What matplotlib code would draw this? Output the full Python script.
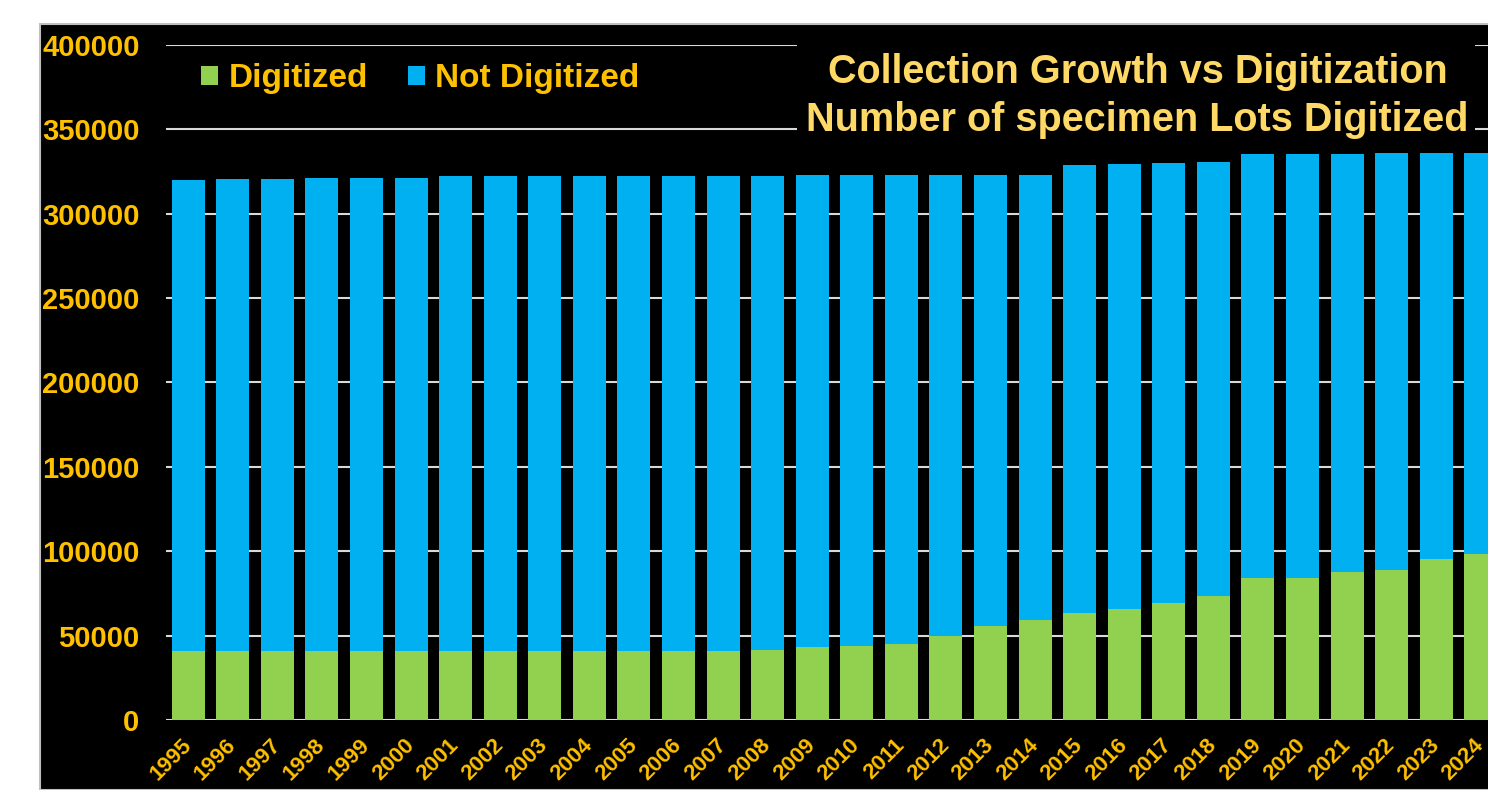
import matplotlib
matplotlib.use('Agg')
import matplotlib.pyplot as plt
from matplotlib.patches import Rectangle
import numpy as np

# Values
years = [str(y) for y in range(1995, 2025)]
digitized = [40900, 40900, 40900, 40900, 40900, 40900, 40900, 40900, 40900, 40900,
             40900, 40900, 40900, 41700, 43100, 43900, 45000, 50000, 55700, 59300,
             63200, 65600, 69500, 73700, 84300, 84300, 87700, 89100, 95400, 98400]
not_digitized = [279100, 279700, 279700, 280500, 280500, 280500, 281300, 281300, 281300, 281300,
                 281300, 281300, 281300, 280500, 279700, 278900, 277800, 272800, 267100, 263500,
                 265800, 263600, 260600, 256700, 251100, 251100, 247700, 247100, 240800, 237800]
y_ticks = [0, 50000, 100000, 150000, 200000, 250000, 300000, 350000, 400000]
title_lines = ['Collection Growth vs Digitization', 'Number of specimen Lots Digitized']

gold = '#FFC000'
title_gold = '#FFD966'
green = '#92D050'
blue = '#00B0F0'
grid_gray = '#D9D9D9'

plt.rcParams['font.family'] = ['Liberation Sans', 'DejaVu Sans']

W, H = 1488, 790
fig = plt.figure(figsize=(W / 100, H / 100), dpi=100, facecolor='white')

def fx(px):
    return px / W

def fy(py):
    return 1 - py / H

# black chart area with thin gray border
fig.add_artist(Rectangle((fx(40), 0), 1 - fx(40) + 0.01, fy(24), transform=fig.transFigure,
                         facecolor='black', edgecolor='#BFBFBF', linewidth=1.5, zorder=-1))

# axes extends a bit past the right edge, the reference is cropped there
ax = fig.add_axes([fx(166), fy(720), fx(1503 - 166), (720 - 45) / H])
ax.set_facecolor('none')

x = np.arange(len(years))
ax.bar(x, digitized, width=0.74, color=green, label='Digitized', zorder=2)
ax.bar(x, not_digitized, width=0.74, bottom=digitized, color=blue, label='Not Digitized', zorder=2)

ax.set_xlim(-0.5, len(years) - 0.5)
ax.set_ylim(0, 400000)
ax.set_yticks(y_ticks)
ax.set_yticklabels([str(v) for v in y_ticks])
ax.set_xticks(x)
ax.set_xticklabels(years, rotation=45, ha='right', va='center', rotation_mode='anchor')

ax.grid(axis='y', color=grid_gray, linewidth=1.5, zorder=0)
ax.set_axisbelow(True)
for side in ['top', 'right', 'left', 'bottom']:
    ax.spines[side].set_visible(False)
ax.tick_params(axis='both', length=0)
ax.tick_params(axis='y', pad=19, labelsize=21, labelcolor=gold)
ax.tick_params(axis='x', pad=16, labelsize=16, labelcolor=gold)
for lab in ax.get_yticklabels() + ax.get_xticklabels():
    lab.set_fontweight('bold')

leg = fig.legend(loc='center left', bbox_to_anchor=(fx(201), fy(79)), ncol=2, frameon=False,
                 prop={'size': 24, 'weight': 'bold'}, handlelength=0.52, handleheight=0.52,
                 handletextpad=0.3, columnspacing=1.2, borderaxespad=0, borderpad=0)
for t in leg.get_texts():
    t.set_color(gold)

# title box hides the grid lines behind it
fig.add_artist(Rectangle((fx(797), fy(136)), fx(1475 - 797), (136 - 38) / H,
                         transform=fig.transFigure, facecolor='black', edgecolor='none', zorder=3))
fig.text(fx(1138), fy(72), title_lines[0], color=title_gold, fontsize=28.5, fontweight='bold',
         ha='center', va='center', zorder=4)
fig.text(fx(1137), fy(120), title_lines[1], color=title_gold, fontsize=28.5, fontweight='bold',
         ha='center', va='center', zorder=4)

fig.savefig('out.png', dpi=100, facecolor='white')
